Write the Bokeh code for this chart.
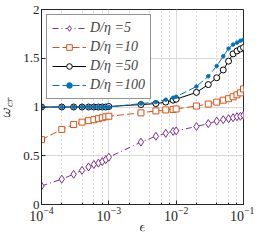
from bokeh.plotting import figure
from bokeh.models import Legend, LegendItem, LogTicker, FixedTicker
from bokeh.embed import file_html
from bokeh.resources import INLINE

eps = [1e-4, 2e-4, 3e-4, 4e-4, 5e-4, 6e-4, 7e-4, 8e-4, 9e-4, 1e-3,
       3e-3, 5e-3, 7e-3, 9e-3, 1e-2,
       2e-2, 3e-2, 4e-2, 5e-2, 6e-2, 7e-2, 8e-2, 9e-2, 1e-1]
w5 = [0.19, 0.26, 0.31, 0.35, 0.385, 0.41, 0.425, 0.44, 0.46, 0.485,
      0.64, 0.70, 0.73, 0.75, 0.755,
      0.80, 0.83, 0.855, 0.87, 0.88, 0.89, 0.90, 0.905, 0.915]
w10 = [0.665, 0.77, 0.82, 0.845, 0.86, 0.87, 0.88, 0.89, 0.90, 0.905,
       0.94, 0.96, 0.97, 0.975, 0.98,
       1.01, 1.03, 1.05, 1.07, 1.085, 1.105, 1.125, 1.145, 1.185]
w50 = [1.0, 1.0, 1.0, 1.0, 1.0, 1.0, 1.0, 1.0, 1.0, 1.005,
       1.025, 1.035, 1.05, 1.07, 1.08,
       1.15, 1.23, 1.30, 1.38, 1.47, 1.545, 1.575, 1.595, 1.61]
w100 = [1.0, 1.0, 1.0, 1.0, 1.0, 1.0, 1.0, 1.0, 1.0, 1.0,
        1.035, 1.05, 1.075, 1.095, 1.105,
        1.21, 1.315, 1.42, 1.52, 1.60, 1.64, 1.66, 1.68, 1.69]
labels = ["D/η =5", "D/η =10", "D/η =50", "D/η =100"]
y_ticks = [0, 0.5, 1, 1.5, 2]

FONT = "Liberation Serif"

p = figure(x_axis_type="log", x_range=(1e-4, 1e-1), y_range=(0, 2),
           frame_width=202, frame_height=195,
           min_border_left=10, min_border_right=11, min_border_top=9, min_border_bottom=10,
           output_backend="svg", toolbar_location=None)
p.background_fill_color = "white"
p.outline_line_color = "#262626"
p.outline_line_width = 1

# grids
p.xgrid.grid_line_color = "#d9d9d9"
p.xgrid.minor_grid_line_color = "#b0b0b0"
p.xgrid.minor_grid_line_dash = "1 3"
p.ygrid.grid_line_color = "#d9d9d9"
p.yaxis.ticker = FixedTicker(ticks=y_ticks)
p.xaxis.ticker = LogTicker(desired_num_ticks=4)

for ax in (p.xaxis, p.yaxis):
    ax.major_tick_in = 4
    ax.major_tick_out = 0
    ax.minor_tick_in = 2
    ax.minor_tick_out = 0
    ax.axis_line_color = "#262626"
    ax.major_tick_line_color = "#262626"
    ax.minor_tick_line_color = "#262626"
    ax.major_label_text_font = FONT
    ax.major_label_text_font_size = "13px"
    ax.major_label_text_color = "#262626"
    ax.axis_label_text_font = FONT
    ax.axis_label_text_font_size = "15px"
    ax.axis_label_text_font_style = "normal"
    ax.major_label_standoff = 2
    ax.axis_label_standoff = 1
p.xaxis.major_label_text_font_size = "14px"
p.yaxis.minor_tick_line_color = None
p.xaxis.axis_label = r"$$\epsilon$$"
p.yaxis.axis_label = r"$$\omega_{cr}$$"

purple = "#7E2F8E"
orange = "#D95319"
blue = "#0072BD"

l5 = p.line(eps, w5, line_color=purple, line_width=1, line_dash="6 3 1 3")
m5 = p.scatter(eps, w5, marker="diamond", size=8, line_color=purple, fill_color="white", line_width=1)
l10 = p.line(eps, w10, line_color=orange, line_width=1, line_dash="7 3")
m10 = p.scatter(eps, w10, marker="square", size=6, line_color=orange, fill_color="white", line_width=1)
l50 = p.line(eps, w50, line_color="black", line_width=1)
m50 = p.scatter(eps, w50, marker="circle", size=6, line_color="black", fill_color="white", line_width=1)
l100 = p.line(eps, w100, line_color=blue, line_width=1, line_dash="7 3")
m100 = p.scatter(eps, w100, marker="circle", size=3.5, line_color=blue, fill_color=blue)

legend = Legend(items=[
    LegendItem(label=labels[0], renderers=[l5, m5]),
    LegendItem(label=labels[1], renderers=[l10, m10]),
    LegendItem(label=labels[2], renderers=[l50, m50]),
    LegendItem(label=labels[3], renderers=[l100, m100]),
], location="top_left")
legend.label_text_font = FONT
legend.label_text_font_size = "14px"
legend.label_text_font_style = "italic"
legend.glyph_width = 34
legend.glyph_height = 14
legend.label_height = 14
legend.label_standoff = 4
legend.spacing = 3
legend.padding = 5
legend.margin = 5
legend.border_line_color = "#262626"
legend.border_line_width = 1
legend.background_fill_alpha = 1
p.add_layout(legend)

open("out.html", "w").write(file_html(p, INLINE))
